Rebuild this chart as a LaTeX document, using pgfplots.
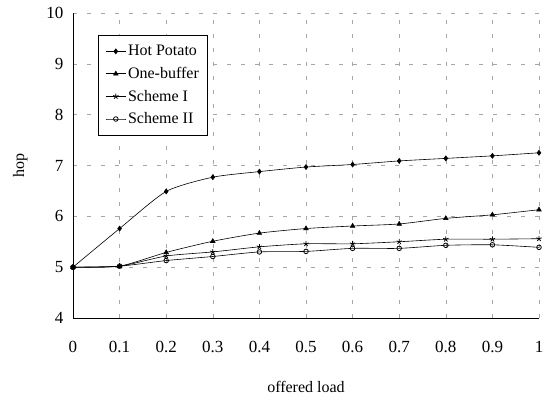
\documentclass[border=0pt]{standalone}
\usepackage{pgfplots}
\pgfplotsset{compat=1.18}
\usepackage{fontspec}
\setmainfont{Liberation Serif}
\begin{document}
\begin{tikzpicture}
\begin{axis}[
  scale only axis, width=466pt, height=305pt,
  at={(0,0)}, anchor=south west,
  xmin=0, xmax=1, ymin=4, ymax=10,
  xtick={0,0.1,...,1.01}, ytick={4,5,...,10},
  xticklabels={0,0.1,0.2,0.3,0.4,0.5,0.6,0.7,0.8,0.9,1},
  axis x line*=bottom, axis y line*=left,
  axis line style={black, line width=0.6pt, -},
  major tick length=0pt,
  grid=major,
  major grid style={gray!70, dash pattern=on 4pt off 10pt, line width=0.5pt},
  tick label style={font=\fontsize{17}{19}\selectfont},
  /pgf/number format/assume math mode=true,
  xticklabel style={yshift=-20pt},
  yticklabel style={xshift=-6pt},
  xlabel={offered load}, ylabel={hop},
  label style={font=\fontsize{16}{18}\selectfont},
  xlabel style={yshift=-21pt},
  ylabel style={yshift=12pt},
  legend style={at={(rel axis cs:0.054,0.928)}, anchor=north west,
    font=\fontsize{16}{18}\selectfont, draw=black, line width=0.8pt,
    row sep=6pt, inner xsep=7pt, inner ysep=8pt, cells={anchor=west}},
  legend image code/.code={\draw[mark repeat=2,mark phase=2,#1] plot coordinates {(0cm,0cm) (0.35cm,0cm) (0.7cm,0cm)};},
  legend cell align=left,
]
\addplot[black, line width=0.6pt, smooth, tension=0.4, mark=diamond*, mark size=2.5pt, mark options={fill=black, solid}] coordinates {
 (0,5) (0.1,5.76) (0.2,6.49) (0.3,6.77) (0.4,6.88) (0.5,6.97) (0.6,7.02) (0.7,7.09) (0.8,7.14) (0.9,7.19) (1,7.25)};
\addlegendentry{Hot Potato}
\addplot[black, line width=0.6pt, smooth, tension=0.4, mark=triangle*, mark size=2.6pt, mark options={fill=black, solid}] coordinates {
 (0,5) (0.1,5.02) (0.2,5.29) (0.3,5.51) (0.4,5.67) (0.5,5.76) (0.6,5.81) (0.7,5.85) (0.8,5.96) (0.9,6.03) (1,6.13)};
\addlegendentry{One-buffer}
\addplot[black, line width=0.6pt, smooth, tension=0.4, mark=star, mark size=2.8pt, mark options={line width=0.8pt, solid}] coordinates {
 (0,5) (0.1,5.02) (0.2,5.22) (0.3,5.30) (0.4,5.40) (0.5,5.46) (0.6,5.46) (0.7,5.50) (0.8,5.55) (0.9,5.55) (1,5.56)};
\addlegendentry{Scheme I}
\addplot[black, line width=0.6pt, smooth, tension=0.4, mark=o, mark size=2.3pt, mark options={line width=0.8pt, fill=white, solid}] coordinates {
 (0,5) (0.1,5.02) (0.2,5.13) (0.3,5.21) (0.4,5.30) (0.5,5.31) (0.6,5.37) (0.7,5.37) (0.8,5.43) (0.9,5.44) (1,5.39)};
\addlegendentry{Scheme II}
\end{axis}
\pgfresetboundingbox
\path (-73pt,-82pt) rectangle (476pt,318pt);
\end{tikzpicture}
\end{document}
